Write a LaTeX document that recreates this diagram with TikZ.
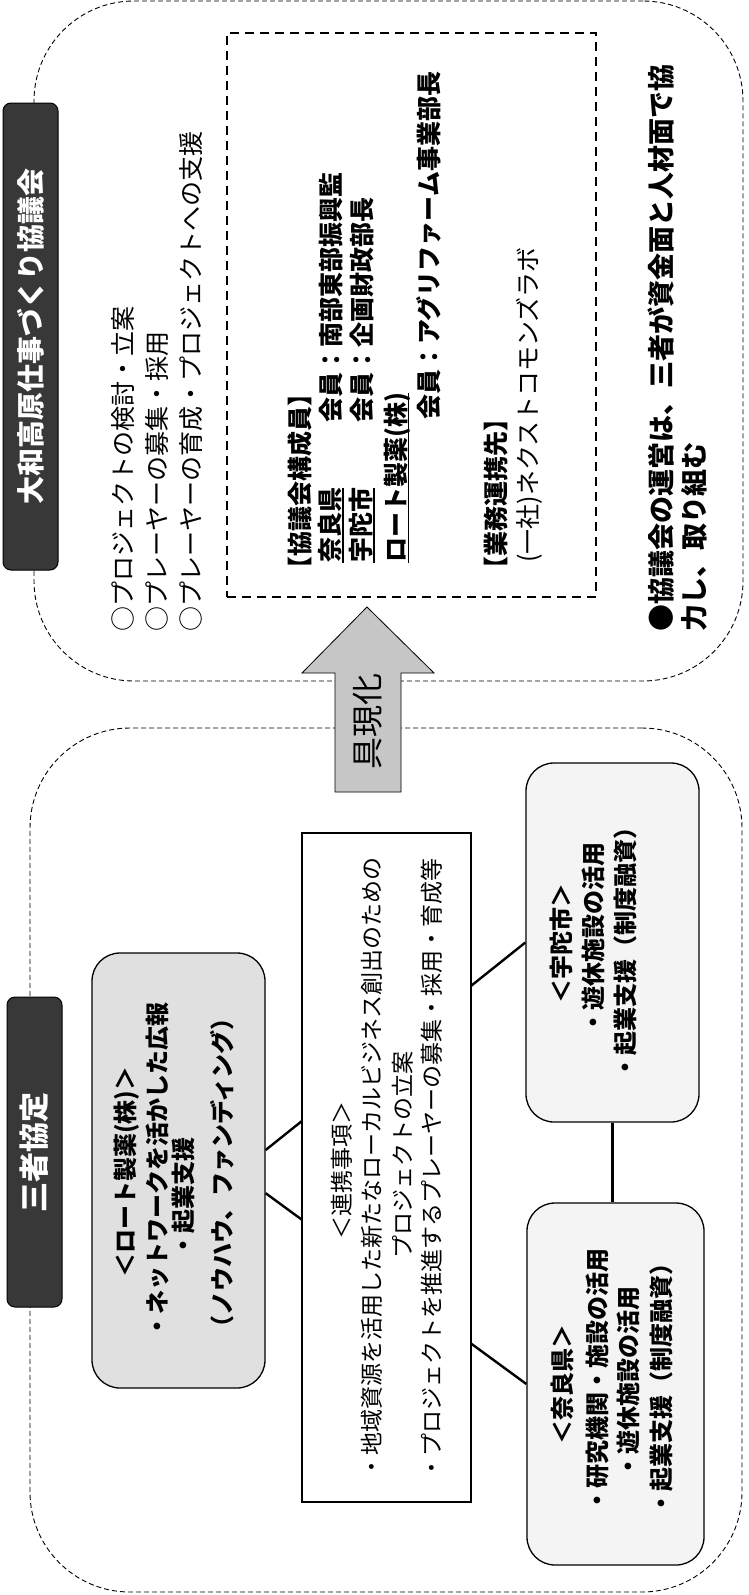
\documentclass[tikz,border=0pt]{standalone}
\usepackage{fontspec}
\newfontfamily\jp{Noto Sans CJK JP}
\usetikzlibrary{calc}
\newcommand\myul[1]{\setbox0=\hbox{#1}\rlap{\copy0}\rule[-4pt]{\wd0}{1.6pt}}
\tikzset{
  frame/.style={draw=black, line width=0.9pt, dash pattern=on 5pt off 3pt, rounded corners=100pt, inner sep=0pt},
  memberbox/.style={draw=black, line width=1.6pt, dash pattern=on 9pt off 6pt, inner sep=0pt},
  titlebox/.style={rotate=90, draw=black, line width=1pt, fill=black!78, rounded corners=8pt, text=white, inner sep=0pt},
  partybox/.style={draw=black, line width=1.3pt, rounded corners=28pt, inner sep=0pt},
  centerbox/.style={draw=black, line width=1.4pt, fill=white, inner sep=0pt},
  conn/.style={draw=black, line width=2.4pt},
  vt/.style={rotate=90, inner sep=0pt, text=black},
  fa/.style={font=\jp\fontsize{25}{25}\selectfont},
  fb/.style={font=\jp\bfseries\fontsize{25}{25}\selectfont},
  fc/.style={font=\jp\fontsize{23}{23}\selectfont},
  fd/.style={font=\jp\bfseries\fontsize{24}{24}\selectfont},
  fe/.style={font=\jp\bfseries\fontsize{27}{27}\selectfont}
}
\begin{document}
\begin{tikzpicture}[x=1pt,y=-1pt]
\fill[white] (0,0) rectangle (748,1595);
\useasboundingbox (0,0) rectangle (748,1595);

% outer frames
\node[frame, minimum width=709pt, minimum height=680pt] (topframe) at (388.5,341) {};
\node[frame, minimum width=712pt, minimum height=864pt] (botframe) at (386,1160) {};

% ---- top section ----
\node[titlebox, minimum width=467pt, minimum height=55pt, font=\jp\bfseries\fontsize{28}{28}\selectfont] (ttl1) at (30.5,336.5) {大和高原仕事づくり協議会};
\node[vt, fa, anchor=west] (o1) at (123,632) {○プロジェクトの検討・立案};
\node[vt, fa, anchor=west] (o2) at (157,632) {○プレーヤーの募集・採用};
\node[vt, fa, anchor=west] (o3) at (191,632) {○プレーヤーの育成・プロジェクトへの支援};

\node[memberbox, minimum width=369pt, minimum height=564pt] (mem) at (411.5,315) {};
\node[vt, fb, anchor=west] (m0) at (300,582) {【協議会構成員】};
\node[vt, fb, anchor=west] (m1a) at (331,563) {\myul{奈良県}};
\node[vt, fb, anchor=west] (m1b) at (331,423) {会員：南部東部振興監};
\node[vt, fb, anchor=west] (m2a) at (362,563) {\myul{宇陀市}};
\node[vt, fb, anchor=west] (m2b) at (362,423) {会員：企画財政部長};
\node[vt, fb, anchor=west] (m3a) at (397,563) {\myul{ロート製薬(株)}};
\node[vt, fb, anchor=west] (m3b) at (429,420) {会員：アグリファーム事業部長};
\node[vt, fb, anchor=west] (m4a) at (496,582) {【業務運携先】};
\node[vt, fa, anchor=west] (m4b) at (529,563) {(一社)ネクストコモンズラボ};

\node[vt, fe, anchor=west] (n1) at (661,632) {●協議会の運営は、三者が資金面と人材面で協};
\node[vt, fe, anchor=west] (n2) at (694,632) {力し、取り組む};

% ---- arrow ----
\filldraw[fill=gray!45, draw=black, line width=0.8pt] (335,792) -- (335,673) -- (302,673) -- (367,607) -- (434,673) -- (401,673) -- (401,792) -- cycle;
\node[vt, font=\jp\fontsize{32}{32}\selectfont] (gen) at (368,721) {具現化};

% ---- bottom section ----
\node[titlebox, minimum width=310pt, minimum height=55pt, font=\jp\bfseries\fontsize{30}{30}\selectfont] (ttl2) at (34.5,1152) {三者協定};

\node[partybox, fill=gray!24, minimum width=173pt, minimum height=435pt] (rohto) at (178.5,1170.5) {};
\node[partybox, fill=gray!9, minimum width=173pt, minimum height=359pt] (uda) at (612.5,942.5) {};
\node[partybox, fill=gray!9, minimum width=177pt, minimum height=362pt] (nara) at (615.5,1384) {};

\draw[conn] ($(rohto.north east)!0.453!(rohto.south east)$) -- (uda.west);
\draw[conn] ($(rohto.north east)!0.552!(rohto.south east)$) -- (nara.west);
\draw[conn, line width=3.5pt] (uda.south) -- (uda.south |- nara.north);

\node[centerbox, minimum width=169pt, minimum height=669pt] (ctr) at (386.5,1167.5) {};

% rohto texts
\node[vt, fd] (r1) at (127,1172) {＜ロート製薬(株)＞};
\node[vt, fd] (r2) at (157,1170) {・ネットワークを活かした広報};
\node[vt, fd] (r3) at (184,1197) {・起業支援};
\node[vt, fd] (r4) at (222,1173) {（ノウハウ、ファンディング）};

% center texts
\node[vt, fc] (c1) at (342,1170) {＜連携事項＞};
\node[vt, fc] (c2) at (372,1168) {・地域資源を活用した新たなローカルビジネス創出のための};
\node[vt, fc] (c3) at (403,1155) {プロジェクトの立案};
\node[vt, fc] (c4) at (432,1169) {・プロジェクトを推進するプレーヤーの募集・採用・育成等};

% uda texts
\node[vt, fd] (u1) at (561,943) {＜宇陀市＞};
\node[vt, fd] (u2) at (593,938) {・遊休施設の活用};
\node[vt, fd] (u3) at (625,947) {・起業支援（制度融資）};

% nara texts
\node[vt, fd] (k1) at (562,1384) {＜奈良県＞};
\node[vt, fd] (k2) at (597,1380) {・研究機関・施設の活用};
\node[vt, fd] (k3) at (628,1382) {・遊休施設の活用};
\node[vt, fd] (k4) at (661,1383) {・起業支援（制度融資）};
\end{tikzpicture}
\end{document}
